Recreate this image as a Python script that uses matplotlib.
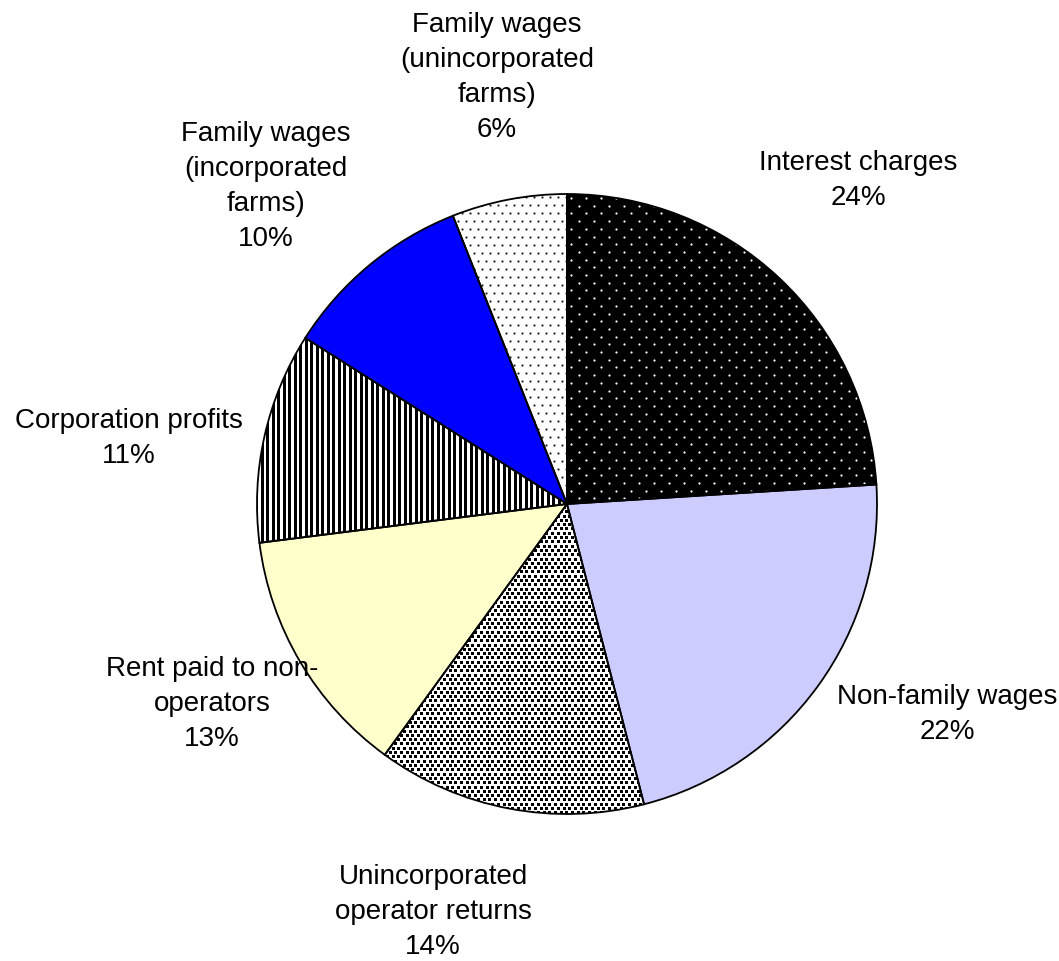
import numpy as np
import matplotlib.pyplot as plt

# data
labels = ["Interest charges", "Non-family wages", "Unincorporated\noperator returns",
          "Rent paid to non-\noperators", "Corporation profits",
          "Family wages\n(incorporated\nfarms)", "Family wages\n(unincorporated\nfarms)"]
shares = [24, 22, 14, 13, 11, 10, 6]
colors = ['black', '#CCCCFF', 'white', '#FFFFCC', 'white', '#0000FF', 'white']
# label centres, in pie radius units
label_xy = [(0.939, 1.048), (1.228, -0.677), (-0.432, -1.313), (-1.145, -0.642),
            (-1.413, 0.216), (-0.971, 1.029), (-0.226, 1.379)]

R_px = 310.0
px = 1 / R_px
cx, cy = 567, 505
W, H = 1059, 962

fig = plt.figure(figsize=(W / 100, H / 100), dpi=100)
ax = fig.add_axes([0, 0, 1, 1])

wedges, _ = ax.pie(shares, colors=colors, startangle=90, counterclock=False,
                   wedgeprops=dict(linewidth=0))


def dot_grid(dx, dy):
    xs, ys = [], []
    for i, y in enumerate(np.arange(-1.05, 1.05, dy * px)):
        x = np.arange(-1.05, 1.05, dx * px) + (i % 2) * dx * px / 2
        xs.append(x)
        ys.append(np.full_like(x, y))
    return np.concatenate(xs), np.concatenate(ys)


def pt(p):  # pixel size -> points
    return p * 72 / 100


# interest charges: white dots on black
x, y = dot_grid(15, 7.7)
sc = ax.scatter(x, y, s=pt(2.2) ** 2, c='white', marker='o', linewidths=0)
sc.set_clip_path(wedges[0])

# unincorporated operator returns: dense black squares
x, y = dot_grid(5.7, 4.3)
sc = ax.scatter(x, y, s=pt(3.0) ** 2, c='black', marker='s', linewidths=0)
sc.set_clip_path(wedges[2])

# corporation profits: vertical stripes
xv = np.arange(-1.02, 1.02, 5.5 * px)
vl = ax.vlines(xv, -1.05, 1.05, colors='black', linewidth=pt(3))
vl.set_clip_path(wedges[4])

# family wages (unincorporated): sparse black dots
x, y = dot_grid(8, 8)
sc = ax.scatter(x, y, s=pt(2.2) ** 2, c='#222222', marker='o', linewidths=0)
sc.set_clip_path(wedges[6])

# outlines on top
ax.pie(shares, startangle=90, counterclock=False,
       wedgeprops=dict(fill=False, edgecolor='black', linewidth=1.3))

for lab, v, (lx, ly) in zip(labels, shares, label_xy):
    ax.text(lx, ly, f"{lab}\n{v}%", ha='center', va='center', fontsize=20,
            family='Liberation Sans', linespacing=1.45)

ax.set_xlim(-cx / R_px, (W - cx) / R_px)
ax.set_ylim((cy - H) / R_px, cy / R_px)
ax.set_aspect('auto')
ax.axis('off')

fig.savefig('out.png', dpi=100)
